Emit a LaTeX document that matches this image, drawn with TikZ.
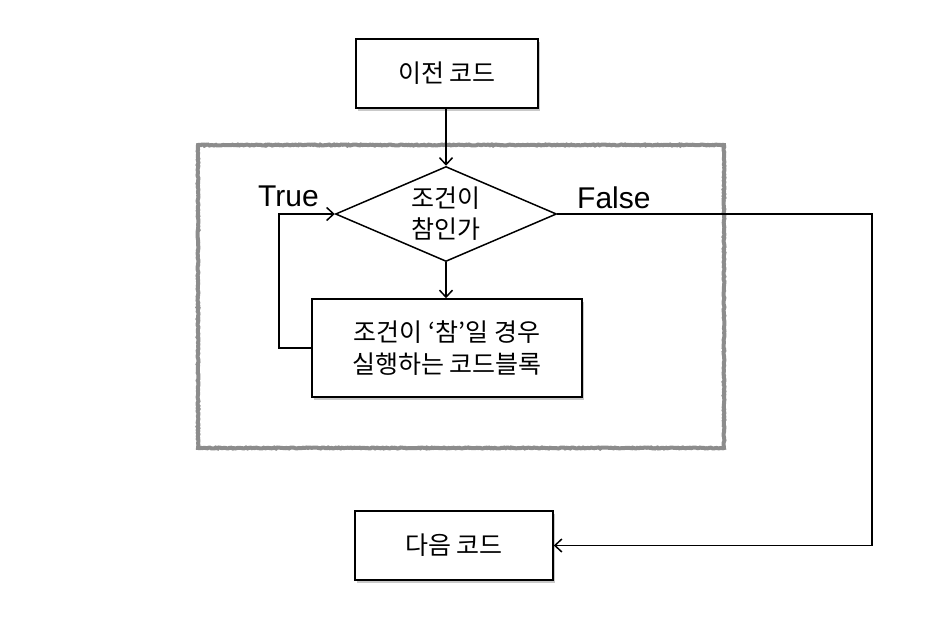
\documentclass[tikz,border=0pt]{standalone}
\usepackage{fontspec}
\setmainfont{Liberation Sans}
\newfontfamily\kr{Noto Sans CJK KR}
\usetikzlibrary{arrows.meta,shapes.geometric,shadows,decorations.pathmorphing}
\begin{document}
\begin{tikzpicture}[x=1pt,y=-1pt,
  box/.style={draw=black,line width=1.5pt,fill=white,rectangle,inner sep=0pt,
    align=center,font=\kr\fontsize{25}{32}\selectfont,
    drop shadow={shadow xshift=1.5pt,shadow yshift=-2.5pt,opacity=0.35,fill=black!60}},
  decision/.style={draw=black,line width=1.5pt,fill=white,diamond,inner sep=-20pt,
    align=center,font=\kr\fontsize{25}{31}\selectfont},
  arr/.style={draw=black,line width=1.5pt,-{Straight Barb[length=7pt,width=13pt,line width=1.5pt]}},
  lbl/.style={font=\fontsize{30}{34}\selectfont,inner sep=0pt,anchor=base west},
  frame/.style={draw=black!45,line width=4pt,decorate,
    decoration={random steps,segment length=1.5pt,amplitude=0.5pt}}]
\useasboundingbox (0,0) rectangle (950,616);
\fill[white] (0,0) rectangle (950,616);
\draw[frame] (198,145) rectangle (724,448);
\node[box,minimum width=182pt,minimum height=69pt] (prev) at (447,73.5) {이전 코드};
\node[decision,minimum width=221pt,minimum height=95pt] (cond) at (446,214) {조건이\\참인가};
\node[box,minimum width=270pt,minimum height=98pt] (body) at (447,348) {조건이 ‘참’일 경우\\실행하는 코드블록};
\node[box,minimum width=198pt,minimum height=69pt] (next) at (454,545.5) {다음 코드};
\coordinate (lp) at (279,0);
\coordinate (rp) at (872,0);
\draw[arr] (prev.south -| cond.north) -- (cond.north);
\draw[arr] (cond.south) -- (body.north -| cond.south);
\draw[arr] (body.west) -- (body.west -| lp) |- (cond.west);
\draw[arr] (cond.east) -- (cond.east -| rp) |- (next.east);
\node[lbl] (t) at (258,206) {True};
\node[lbl] (f) at (577,208) {False};
\end{tikzpicture}
\end{document}
